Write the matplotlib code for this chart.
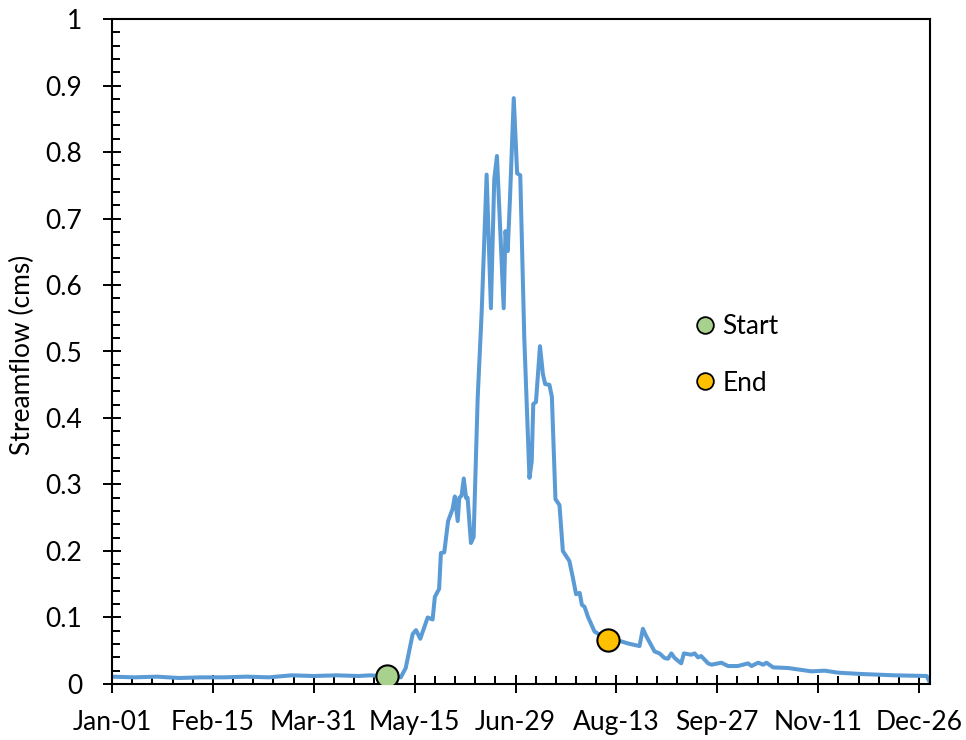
import matplotlib
matplotlib.use("Agg")
import matplotlib.pyplot as plt
from matplotlib.lines import Line2D
from matplotlib.ticker import MultipleLocator

plt.rcParams['font.family'] = ['Lato', 'DejaVu Sans']

# day of year (0 = Jan-01) and streamflow (cms)
days = [0, 10, 20, 30, 40, 50, 60, 70, 80, 90, 100, 110, 115, 120, 123, 128.8,
        131.0, 134.1, 135.6, 137.5, 140.8, 143.0, 144.0, 145.9, 146.7, 148.2, 149.9,
        151.9, 152.9, 154.2, 154.9, 155.9, 156.9, 157.9, 158.6, 160.1, 161.3, 163.1,
        164.9, 167.1, 169.0, 170.5, 171.7, 172.8, 174.7, 175.5, 176.5, 177.5, 179.2,
        180.7, 182.1, 183.9, 186.2, 187.2, 187.9, 189.1, 190.9, 192.2, 193.2, 195.1,
        196.2, 197.8, 199.6, 201.1, 204.0, 205.5, 207.0, 208.6, 209.6, 210.8, 212.3,
        215.2, 221.2, 227.2, 230.1, 235.3, 236.8, 238.3, 242.0, 244.2, 246.5, 248.0,
        249.5, 251.0, 253.9, 255.1, 258.4, 259.9, 261.4, 262.8, 265.9, 267.4, 271.8,
        274.8, 279.2, 283.7, 285.3, 288.2, 290.5, 291.9, 294.9, 301.6, 312.0, 317.9,
        323.9, 334.3, 349.3, 363.4, 365]
flow = [0.011, 0.010, 0.011, 0.009, 0.010, 0.010, 0.011, 0.010, 0.013, 0.012, 0.013,
        0.012, 0.013, 0.012, 0.012, 0.010,
        0.024, 0.075, 0.081, 0.068, 0.100, 0.097, 0.131, 0.143, 0.197, 0.198, 0.245,
        0.263, 0.282, 0.245, 0.280, 0.283, 0.309, 0.280, 0.280, 0.212, 0.221, 0.430,
        0.560, 0.766, 0.565, 0.759, 0.794, 0.711, 0.565, 0.681, 0.651, 0.729, 0.881,
        0.768, 0.765, 0.520, 0.310, 0.334, 0.421, 0.424, 0.508, 0.466, 0.451, 0.450,
        0.432, 0.278, 0.269, 0.200, 0.185, 0.161, 0.135, 0.137, 0.119, 0.116, 0.101,
        0.079, 0.066, 0.064, 0.061, 0.057, 0.083, 0.072, 0.049, 0.046, 0.039, 0.038,
        0.046, 0.039, 0.031, 0.046, 0.044, 0.046, 0.040, 0.042, 0.031, 0.029, 0.032,
        0.027, 0.027, 0.031, 0.027, 0.032, 0.029, 0.032, 0.025, 0.024, 0.019, 0.020,
        0.017, 0.015, 0.013, 0.012, 0.001]

start_day, start_flow = 122.8, 0.012
end_day, end_flow = 221.2, 0.066

tick_days = [0, 45, 90, 135, 180, 225, 270, 315, 360]
tick_labels = ["Jan-01", "Feb-15", "Mar-31", "May-15", "Jun-29",
               "Aug-13", "Sep-27", "Nov-11", "Dec-26"]

FS = 19

fig = plt.figure(figsize=(9.66, 7.4), dpi=100)
ax = fig.add_axes([0.116, 0.0757, 0.847, 0.8986])

ax.plot(days, flow, color="#5B9BD5", lw=2.9, solid_joinstyle="round", zorder=2)
ax.plot(start_day, start_flow, "o", ms=16, mfc="#A9D18E", mec="black", mew=1.5, zorder=3)
ax.plot(end_day, end_flow, "o", ms=16, mfc="#FFC000", mec="black", mew=1.5, zorder=3)

ax.set_xlim(0, 365)
ax.set_ylim(0, 1)
ax.set_xticks(tick_days)
ax.set_xticklabels(tick_labels)
ax.xaxis.set_minor_locator(MultipleLocator(9))
ax.yaxis.set_major_locator(MultipleLocator(0.1))
ax.yaxis.set_minor_locator(MultipleLocator(0.02))
ax.yaxis.set_major_formatter(plt.FuncFormatter(lambda v, p: f"{v:g}"))

ax.tick_params(which="major", direction="inout", length=13, width=1.4, labelsize=FS)
ax.tick_params(which="minor", direction="in", length=6, width=1.4)
ax.tick_params(axis="x", which="major", pad=12)
ax.tick_params(axis="y", which="major", pad=15)
for s in ax.spines.values():
    s.set_linewidth(1.5)

ax.set_ylabel("Streamflow (cms)", fontsize=FS)
ax.yaxis.set_label_coords(-0.094, 0.495)

handles = [
    Line2D([], [], marker="o", ls="none", ms=12, mfc="#A9D18E", mec="black", mew=1.3),
    Line2D([], [], marker="o", ls="none", ms=12, mfc="#FFC000", mec="black", mew=1.3),
]
ax.legend(handles, ["Start", "End"], loc="center left", bbox_to_anchor=(0.693, 0.495),
          borderaxespad=0, frameon=False, fontsize=FS, handletextpad=0.05,
          labelspacing=1.2, handlelength=1.2)

fig.savefig("out.png", dpi=100)
